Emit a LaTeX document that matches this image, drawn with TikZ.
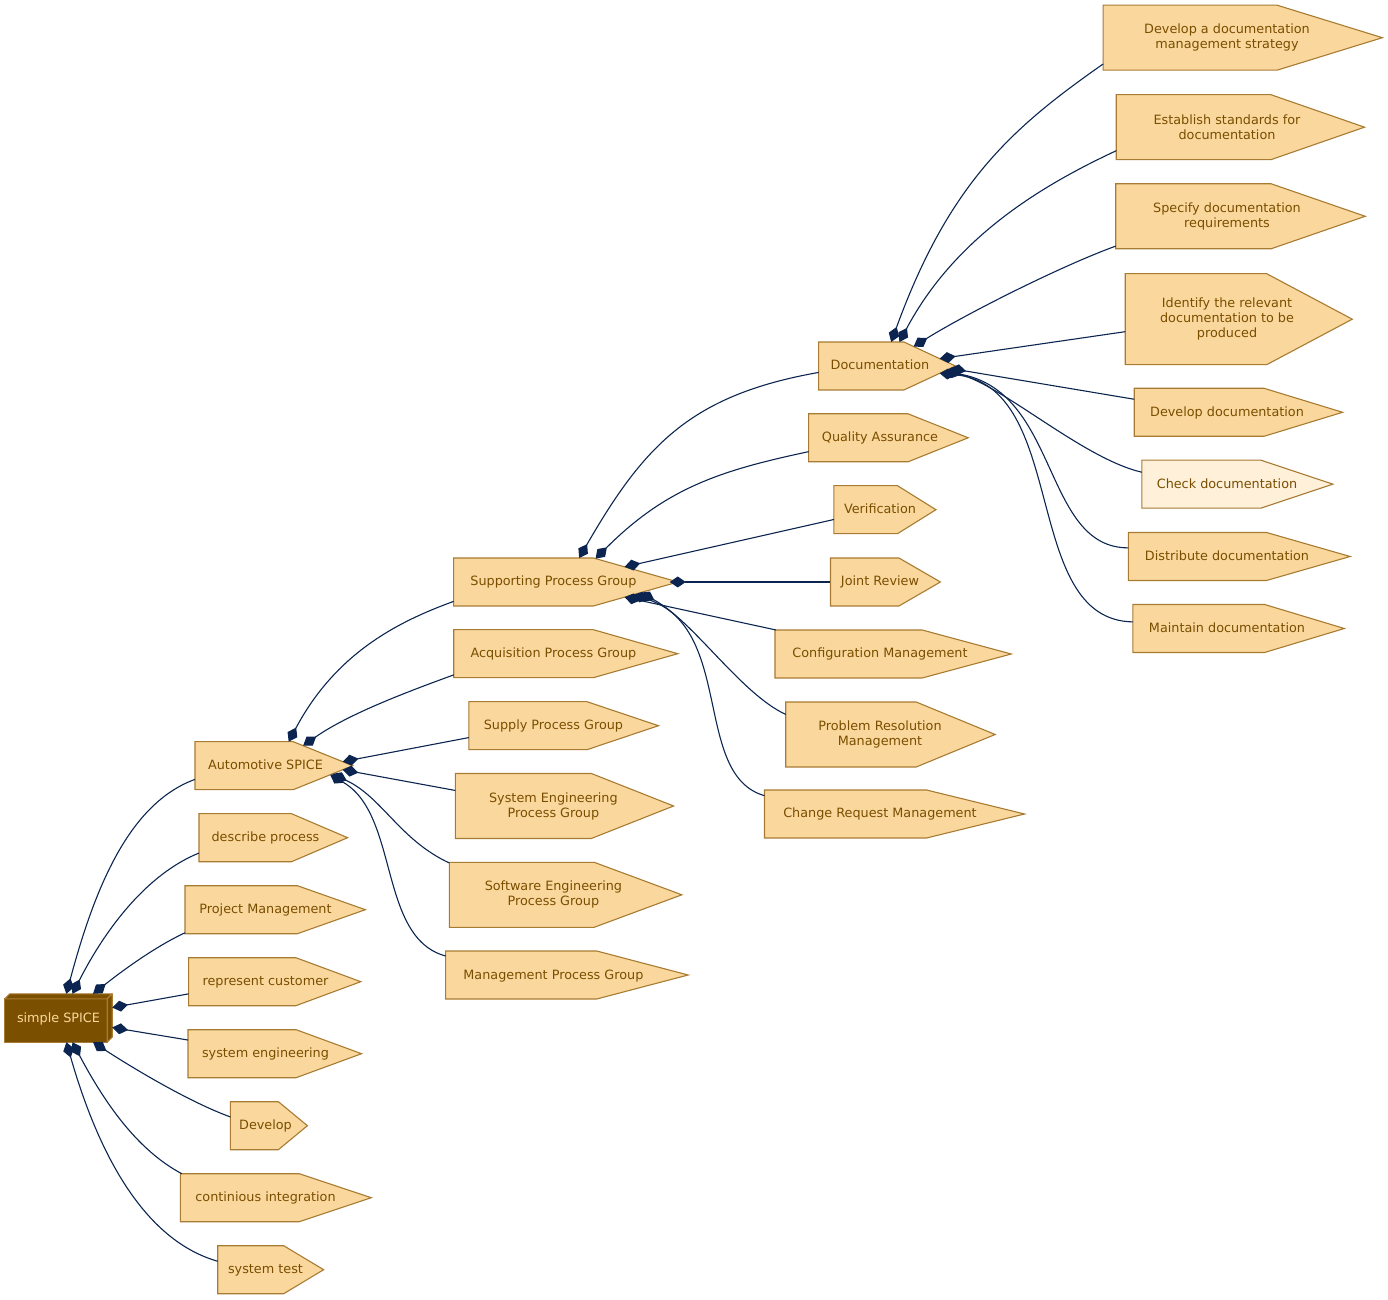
\documentclass[tikz,border=0pt]{standalone}
\usepackage{fontspec}
\newfontfamily\spicefont{DejaVu Sans}
\usetikzlibrary{arrows.meta}

\definecolor{procfill}{HTML}{FAD89D}
\definecolor{procline}{HTML}{A87B32}
\definecolor{proctext}{HTML}{7A4E00}
\definecolor{procroot}{HTML}{7B4F00}
\definecolor{proclight}{HTML}{FFF0D9}
\definecolor{linkcol}{HTML}{0B2550}

\pgfdeclarelayer{background}
\pgfsetlayers{background,main}

% process box: a box with a pointed right end
\tikzset{cds a/.initial=1.30, cds b/.initial=8.5pt, cds c/.initial=0.071,
  cds d/.initial=5pt, cds h/.initial=48pt, cds t/.initial=0.377}
\makeatletter
\pgfdeclareshape{cds}{
  \savedanchor\centerpoint{%
    \pgf@x=.5\wd\pgfnodeparttextbox
    \pgf@y=.5\ht\pgfnodeparttextbox
    \advance\pgf@y by -.5\dp\pgfnodeparttextbox}
  \savedanchor\leftpoint{%
    \pgf@x=-\pgfkeysvalueof{/tikz/cds c}\wd\pgfnodeparttextbox
    \advance\pgf@x by -\pgfkeysvalueof{/tikz/cds d}\relax
    \pgf@y=\pgfkeysvalueof{/tikz/cds h}\relax
    \pgf@y=.5\pgf@y}
  \savedanchor\rightpoint{%
    \pgf@y=\pgfkeysvalueof{/tikz/cds a}\wd\pgfnodeparttextbox
    \advance\pgf@y by \pgfkeysvalueof{/tikz/cds b}\relax
    \pgf@x=-\pgfkeysvalueof{/tikz/cds c}\wd\pgfnodeparttextbox
    \advance\pgf@x by -\pgfkeysvalueof{/tikz/cds d}\relax
    \advance\pgf@x by \pgf@y
    \pgf@y=-\pgfkeysvalueof{/tikz/cds t}\pgf@y
    \advance\pgf@y by \pgf@x}
  \anchor{text}{\pgfpointorigin}
  \anchor{center}{\centerpoint}
  \anchor{west}{\leftpoint \pgf@xa=\pgf@x \centerpoint \pgf@x=\pgf@xa}
  \anchor{east}{\rightpoint \pgf@xa=\pgf@x \centerpoint \pgf@x=\pgf@xa}
  \anchor{north}{\leftpoint \pgf@ya=\pgf@y \centerpoint \advance\pgf@y by \pgf@ya}
  \anchor{south}{\leftpoint \pgf@ya=\pgf@y \centerpoint \advance\pgf@y by -\pgf@ya}
  \anchor{north west}{\leftpoint \pgf@xa=\pgf@x \pgf@ya=\pgf@y \centerpoint
    \pgf@x=\pgf@xa \advance\pgf@y by \pgf@ya}
  \anchor{south west}{\leftpoint \pgf@xa=\pgf@x \pgf@ya=\pgf@y \centerpoint
    \pgf@x=\pgf@xa \advance\pgf@y by -\pgf@ya}
  \anchorborder{%
    \edef\cds@dx{\the\pgf@x}\edef\cds@dy{\the\pgf@y}%
    \leftpoint \edef\cds@l{\the\pgf@x}\edef\cds@hh{\the\pgf@y}%
    \rightpoint \edef\cds@tip{\the\pgf@x}\edef\cds@flat{\the\pgf@y}%
    \centerpoint \edef\cds@cx{\the\pgf@x}\edef\cds@cy{\the\pgf@y}%
    \pgfmathsetmacro\cds@ang{atan2(\cds@dy,\cds@dx)}%
    \pgfmathsetmacro\cds@ux{cos(\cds@ang)}%
    \pgfmathsetmacro\cds@uy{sin(\cds@ang)}%
    \pgfmathsetmacro\cds@ax{max(abs(\cds@ux),0.02)}%
    \pgfmathsetmacro\cds@ay{max(abs(\cds@uy),0.02)}%
    \pgfmathsetmacro\cds@L{\cds@cx-(\cds@l)}%
    \pgfmathsetmacro\cds@R{\cds@flat-(\cds@cx)}%
    \pgfmathsetmacro\cds@T{\cds@tip-(\cds@cx)}%
    \pgfmathsetmacro\cds@H{\cds@hh}%
    \pgfmathsetmacro\cds@tside{\cds@L/\cds@ax}%
    \pgfmathsetmacro\cds@ttop{\cds@H/\cds@ay}%
    \pgfmathsetmacro\cds@tslant{\cds@T/max(\cds@ux+\cds@ay*(\cds@T-\cds@R)/\cds@H,0.02)}%
    \ifdim\cds@ux pt>0pt
      \pgfmathsetmacro\cds@r{(\cds@ttop*\cds@ux<=\cds@R) ? \cds@ttop : \cds@tslant}%
    \else
      \pgfmathsetmacro\cds@r{min(\cds@tside,\cds@ttop)}%
    \fi
    \pgfmathsetmacro\cds@px{\cds@cx+\cds@r*(\cds@ux)}%
    \pgfmathsetmacro\cds@py{\cds@cy+\cds@r*(\cds@uy)}%
    \pgf@x=\cds@px pt\relax
    \pgf@y=\cds@py pt\relax}
  \backgroundpath{%
    \leftpoint \edef\cds@l{\the\pgf@x}\edef\cds@hh{\the\pgf@y}%
    \rightpoint \edef\cds@tip{\the\pgf@x}\edef\cds@flat{\the\pgf@y}%
    \centerpoint \edef\cds@mid{\the\pgf@y}%
    \pgf@ya=\cds@mid\relax \advance\pgf@ya by \cds@hh\relax \edef\cds@top{\the\pgf@ya}%
    \pgf@ya=\cds@mid\relax \advance\pgf@ya by -\cds@hh\relax \edef\cds@bot{\the\pgf@ya}%
    \pgfpathmoveto{\pgfqpoint{\cds@l}{\cds@top}}%
    \pgfpathlineto{\pgfqpoint{\cds@flat}{\cds@top}}%
    \pgfpathlineto{\pgfqpoint{\cds@tip}{\cds@mid}}%
    \pgfpathlineto{\pgfqpoint{\cds@flat}{\cds@bot}}%
    \pgfpathlineto{\pgfqpoint{\cds@l}{\cds@bot}}%
    \pgfpathclose}
}
\makeatother

\begin{document}
\begin{tikzpicture}[x=1pt,y=1pt,
    proc/.style={shape=cds, draw=procline, fill=procfill, line width=1.1pt, text=proctext,
      font=\spicefont\fontsize{12.8}{15}\selectfont},
    one/.style={proc, text height=11pt, text depth=3pt},
    two/.style={proc, align=center, cds a=1.65, cds b=6pt, cds c=0.2, cds d=8pt, cds h=65pt},
    three/.style={two, cds h=91pt},
    rootbox/.style={rectangle, minimum width=107pt, minimum height=48pt, inner sep=0pt,
      text=procfill, text height=11pt, text depth=3pt,
      font=\spicefont\fontsize{12.8}{15}\selectfont},
    rootface/.style={draw=procline, fill=procroot, line width=1.1pt, line join=round},
    link/.style={draw=linkcol, line width=1.1pt, >={Diamond[length=16pt,width=11pt]}, <-}]
  \useasboundingbox (0,0) rectangle (1388,1299);

  % root
  \node[rootbox] (root) at (58.5,281) {simple SPICE};
  \begin{pgfonlayer}{background}
    \filldraw[rootface] (root.south west) rectangle ([shift={(-5pt,-5pt)}]root.north east);
    \filldraw[rootface] ([yshift=-5pt]root.north west) -- ([xshift=5pt]root.north west)
      -- (root.north east) -- ([shift={(-5pt,-5pt)}]root.north east) -- cycle;
    \filldraw[rootface] ([shift={(-5pt,-5pt)}]root.north east) -- (root.north east)
      -- ([yshift=5pt]root.south east) -- ([xshift=-5pt]root.south east) -- cycle;
  \end{pgfonlayer}

  % first level
  \node[one] (auto) at (265.5,533.3) {Automotive SPICE};
  \node[one] (describe) at (265.5,461.3) {describe process};
  \node[one] (pm) at (265.5,389.3) {Project Management};
  \node[one] (customer) at (265.5,317.3) {represent customer};
  \node[one] (syseng) at (265.5,245.3) {system engineering};
  \node[one] (develop) at (265.5,173.3) {Develop};
  \node[one] (ci) at (265.5,101.3) {continious integration};
  \node[one] (systest) at (265.5,29.3) {system test};

  % process groups
  \node[one] (sup) at (553.4,717) {Supporting Process Group};
  \node[one] (acq) at (553.4,645.3) {Acquisition Process Group};
  \node[one] (supply) at (553.4,573.3) {Supply Process Group};
  \node[two] (sepg) at (553.4,493) {System Engineering\\Process Group};
  \node[two] (swpg) at (553.4,404.2) {Software Engineering\\Process Group};
  \node[one] (mgmt) at (553.4,324) {Management Process Group};

  % supporting processes
  \node[one] (doc) at (880,933) {Documentation};
  \node[one] (qa) at (880,861.2) {Quality Assurance};
  \node[one] (ver) at (880,789.3) {Verification};
  \node[one] (jr) at (880,717) {Joint Review};
  \node[one] (cm) at (880,645) {Configuration Management};
  \node[two] (prm) at (880,564.5) {Problem Resolution\\Management};
  \node[one] (crm) at (880,485) {Change Request Management};

  % documentation practices
  \node[two] (strat) at (1227,1261.3) {Develop a documentation\\management strategy};
  \node[two] (stand) at (1227,1171.8) {Establish standards for\\documentation};
  \node[two] (spec) at (1227,1082.7) {Specify documentation\\requirements};
  \node[three] (ident) at (1227,979.8) {Identify the relevant\\documentation to be\\produced};
  \node[one] (devdoc) at (1227,886.7) {Develop documentation};
  \node[one, fill=proclight] (check) at (1227,814.8) {Check documentation};
  \node[one] (dist) at (1227,742.5) {Distribute documentation};
  \node[one] (maint) at (1227,670.5) {Maintain documentation};

  % links from the root
  \draw[link] (root.72.6) .. controls +(75:110) and +(200:70) .. (auto.191.9);
  \draw[link] (root.60.6) .. controls +(63:75) and +(202:55) .. (describe.193.1);
  \draw[link] (root.35.6) .. controls +(38:35) and +(205:35) .. (pm.196.1);
  \draw[link] (root.11.3) -- (customer.189.8);
  \draw[link] (root.-10.9) -- (syseng.170.1);
  \draw[link] (root.-35.6) .. controls +(-33:45) and +(160:45) .. (develop.166.7);
  \draw[link] (root.-60.6) .. controls +(-62:70) and +(152:50) .. (ci.164.7);
  \draw[link] (root.-72.6) .. controls +(-74:120) and +(164:75) .. (systest.170.6);

  % links from Automotive SPICE
  \draw[link] (auto.46.5) .. controls +(62:100) and +(200:60) .. (sup.191.8);
  \draw[link] (auto.28.7) .. controls +(35:55) and +(200:50) .. (acq.192.1);
  \draw[link] (auto.3.1) -- (supply.188.1);
  \draw[link] (auto.-3.2) -- (sepg.171.7);
  \draw[link] (auto.-7.7) .. controls +(-25:55) and +(155:55) .. (swpg.163.9);
  \draw[link] (auto.-8.5) .. controls +(-30:80) and +(165:70) .. (mgmt.170.4);

  % links from the supporting group
  \draw[link] (sup.43.9) .. controls +(60:130) and +(190:130) .. (doc.186.7);
  \draw[link] (sup.29.4) .. controls +(45:100) and +(192:90) .. (qa.191);
  \draw[link] (sup.12.3) -- (ver.192.7);
  \draw[link] (sup.0) -- (jr.180);
  \draw[link] (sup.-12.8) -- (cm.167.5);
  \draw[link] (sup.-7.5) .. controls +(-28:60) and +(155:50) .. (prm.168);
  \draw[link] (sup.-9.2) .. controls (735,671) and (692,524) .. (crm.171.6);

  % links from Documentation
  \draw[link] (doc.65.4) .. controls +(70:170) and +(215:110) .. (strat.192.7);
  \draw[link] (doc.51.6) .. controls +(62:120) and +(205:80) .. (stand.192.7);
  \draw[link] (doc.30.8) .. controls +(32:60) and +(200:60) .. (spec.195.1);
  \draw[link] (doc.7) -- (ident.187.6);
  \draw[link] (doc.-2.9) -- (devdoc.172.5);
  \draw[link] (doc.-4.2) .. controls +(-15:60) and +(167:60) .. (check.172.5);
  \draw[link] (doc.-5.7) .. controls (1060,909) and (1042,751) .. (dist.175.3);
  \draw[link] (doc.-7.3) .. controls (1070,914) and (1020,679) .. (maint.176.5);
\end{tikzpicture}
\end{document}
